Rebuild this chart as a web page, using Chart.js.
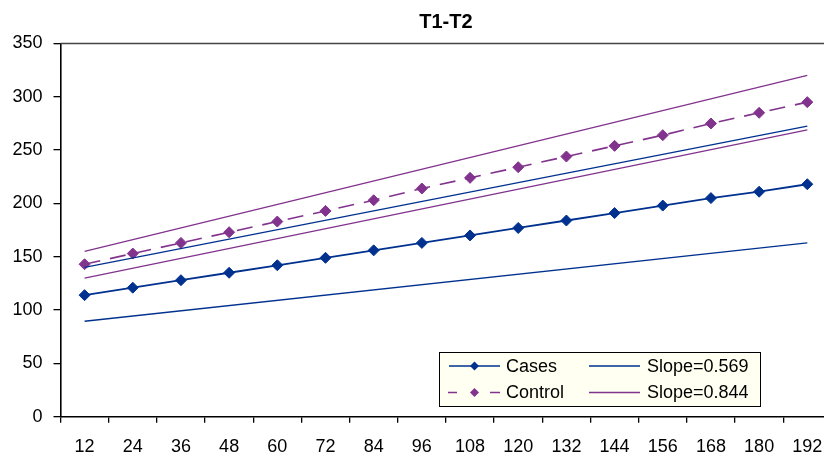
<!DOCTYPE html>
<html lang="en">
  <head>
    <meta charset="utf-8" />
    <title>T1-T2</title>
    <style>
      * {
        margin: 0;
        padding: 0;
      }
      body {
        background: #fff;
        overflow: hidden;
      }
      .chartBox {
        /* the plot runs past the right edge in the original, so crop it */
        width: 824px;
        height: 455px;
        overflow: hidden;
      }
    </style>
  </head>
  <body>
    <div class="chartBox">
      <canvas id="myChart" width="892" height="455"></canvas>
    </div>

    <script src="https://cdn.jsdelivr.net/npm/chart.js"></script>

    <script>
      const ages = ["12", "24", "36", "48", "60", "72", "84", "96", "108", "120", "132", "144", "156", "168", "180", "192"];
      const cases = [114, 121, 128, 135, 142, 149, 156, 163, 170, 177, 184, 191, 198, 205, 211, 218];
      const control = [143, 153, 163, 173, 183, 193, 203, 214, 224, 234, 244, 254, 264, 275, 285, 295];
      // regression bounds, only the two end points are known
      const casesHigh = [140, null, null, null, null, null, null, null, null, null, null, null, null, null, null, 272.5];
      const casesLow = [89.5, null, null, null, null, null, null, null, null, null, null, null, null, null, null, 163];
      const controlHigh = [155, null, null, null, null, null, null, null, null, null, null, null, null, null, null, 320];
      const controlLow = [130, null, null, null, null, null, null, null, null, null, null, null, null, null, null, 269];
      const yTicks = [0, 50, 100, 150, 200, 250, 300, 350];
      const legendLabels = ["Cases", "Control", "Slope=0.569", "Slope=0.844"];
      const titleText = "T1-T2";

      const FONT = "'Liberation Sans', Arial, Helvetica, sans-serif";
      const BLUE = "#00318f";
      const PURPLE = "#82338d";

      // data block
      const data = {
        labels: ages,
        datasets: [
          {
            label: legendLabels[2],
            data: casesHigh,
            borderColor: BLUE,
            borderWidth: 1.3,
            pointRadius: 0,
            spanGaps: true,
          },
          {
            label: legendLabels[2],
            data: casesLow,
            borderColor: BLUE,
            borderWidth: 1.3,
            pointRadius: 0,
            spanGaps: true,
          },
          {
            label: legendLabels[3],
            data: controlHigh,
            borderColor: PURPLE,
            borderWidth: 1.3,
            pointRadius: 0,
            spanGaps: true,
          },
          {
            label: legendLabels[3],
            data: controlLow,
            borderColor: PURPLE,
            borderWidth: 1.3,
            pointRadius: 0,
            spanGaps: true,
          },
          {
            label: legendLabels[0],
            data: cases,
            borderColor: BLUE,
            backgroundColor: BLUE,
            borderWidth: 1.8,
            pointStyle: "rectRot",
            pointRadius: 5.5,
            pointBorderWidth: 1,
          },
          {
            label: legendLabels[1],
            data: control,
            borderColor: PURPLE,
            backgroundColor: PURPLE,
            borderWidth: 1.6,
            borderDash: [16, 10],
            pointStyle: "rectRot",
            pointRadius: 5.5,
            pointBorderWidth: 1,
          },
        ],
      };

      // title over the plot centre, legend box, top border of the plot
      const boxLegend = {
        id: "boxLegend",
        afterDraw(chart) {
          const { ctx, chartArea } = chart;
          ctx.save();

          ctx.fillStyle = "#000";
          ctx.font = `bold 20px ${FONT}`;
          ctx.textAlign = "center";
          ctx.textBaseline = "middle";
          ctx.fillText(titleText, (chartArea.left + chartArea.right) / 2, 22);

          // top frame line
          ctx.strokeStyle = "#444";
          ctx.lineWidth = 1.6;
          ctx.beginPath();
          ctx.moveTo(chartArea.left, chartArea.top);
          ctx.lineTo(chartArea.right, chartArea.top);
          ctx.stroke();

          ctx.fillStyle = "#fffff2";
          ctx.fillRect(439, 352, 321, 54);
          ctx.strokeStyle = "#000";
          ctx.lineWidth = 1;
          ctx.strokeRect(439.5, 352.5, 321, 54);

          const diamond = (x, y, r, color) => {
            ctx.fillStyle = color;
            ctx.beginPath();
            ctx.moveTo(x, y - r);
            ctx.lineTo(x + r, y);
            ctx.lineTo(x, y + r);
            ctx.lineTo(x - r, y);
            ctx.closePath();
            ctx.fill();
          };

          const row1 = 366;
          const row2 = 392.5;

          // Cases
          ctx.strokeStyle = BLUE;
          ctx.lineWidth = 1.3;
          ctx.beginPath();
          ctx.moveTo(449, row1);
          ctx.lineTo(500, row1);
          ctx.stroke();
          diamond(474.5, row1, 4.5, BLUE);

          // Control
          ctx.strokeStyle = PURPLE;
          ctx.beginPath();
          ctx.moveTo(448, row2);
          ctx.lineTo(457, row2);
          ctx.moveTo(490, row2);
          ctx.lineTo(500, row2);
          ctx.stroke();
          diamond(474.5, row2, 4.5, PURPLE);

          // slopes
          ctx.strokeStyle = BLUE;
          ctx.beginPath();
          ctx.moveTo(589, row1);
          ctx.lineTo(640, row1);
          ctx.stroke();
          ctx.strokeStyle = PURPLE;
          ctx.beginPath();
          ctx.moveTo(589, row2);
          ctx.lineTo(640, row2);
          ctx.stroke();

          ctx.fillStyle = "#000";
          ctx.font = `18px ${FONT}`;
          ctx.textBaseline = "middle";
          ctx.textAlign = "left";
          ctx.fillText(legendLabels[0], 506, row1 + 1);
          ctx.fillText(legendLabels[1], 506, row2 + 1);
          ctx.fillText(legendLabels[2], 647, row1 + 1);
          ctx.fillText(legendLabels[3], 647, row2 + 1);

          ctx.restore();
        },
      };

      // config block
      const config = {
        type: "line",
        data: data,
        options: {
          responsive: false,
          animation: false,
          layout: {
            padding: { left: 0, right: 60.6, top: 43.5, bottom: 0 },
          },
          plugins: {
            legend: { display: false },
            tooltip: { enabled: false },
            title: { display: false },
          },
          scales: {
            x: {
              offset: true,
              grid: {
                offset: true,
                drawOnChartArea: false,
                drawTicks: true,
                tickLength: 6,
                color: "#000",
                lineWidth: 1.3,
              },
              border: { color: "#000", width: 1.6 },
              ticks: {
                color: "#000",
                padding: 14,
                maxRotation: 0,
                autoSkip: false,
                font: { family: FONT, size: 18 },
              },
              afterFit(scale) {
                scale.height = 38.3;
              },
            },
            y: {
              min: 0,
              max: 350,
              afterBuildTicks(scale) {
                scale.ticks = yTicks.map((v) => ({ value: v }));
              },
              grid: {
                drawOnChartArea: false,
                drawTicks: true,
                tickLength: 7,
                color: "#000",
                lineWidth: 1.3,
              },
              border: { color: "#000", width: 1.6 },
              ticks: {
                color: "#000",
                padding: 11,
                font: { family: FONT, size: 18 },
              },
              afterFit(scale) {
                scale.width = 60.5;
              },
            },
          },
        },
        plugins: [boxLegend],
      };

      // init render block
      const myChart = new Chart(document.getElementById("myChart"), config);
    </script>
  </body>
</html>
